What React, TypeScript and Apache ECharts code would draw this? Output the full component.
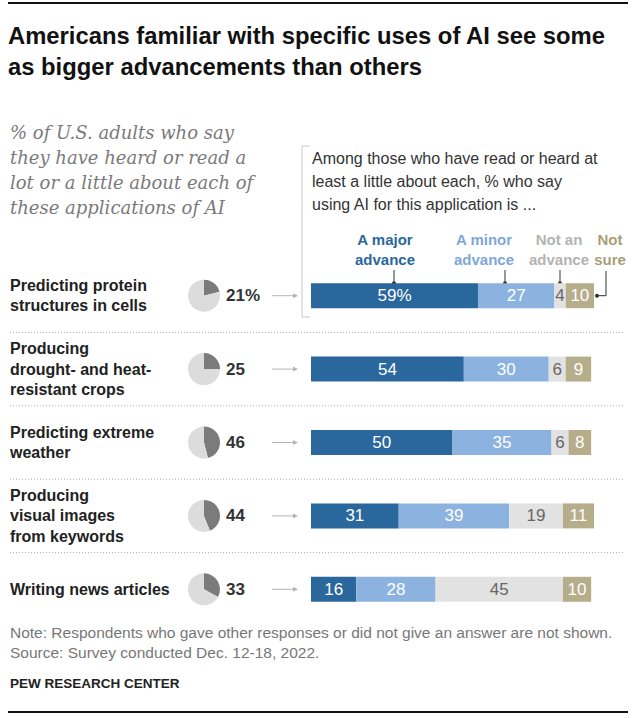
import React, { useEffect, useRef } from "react";
import * as echarts from "echarts";

const categories = [
  "Predicting protein\nstructures in cells",
  "Producing\ndrought- and heat-\nresistant crops",
  "Predicting extreme\nweather",
  "Producing\nvisual images\nfrom keywords",
  "Writing news articles",
];
const familiar = [21, 25, 46, 44, 33];
const major = [59, 54, 50, 31, 16];
const minor = [27, 30, 35, 39, 28];
const notAdvance = [4, 6, 6, 19, 45];
const notSure = [10, 9, 8, 11, 10];
const seriesNames = ["A major\nadvance", "A minor\nadvance", "Not an\nadvance", "Not\nsure"];

const C_MAJOR = "#2a679c";
const C_MINOR = "#8cb3df";
const C_NOT = "#e2e2e2";
const C_SURE = "#b6ad8b";

const GRID_TOP = 259;
const GRID_H = 367;
const GRID_L = 311;
const GRID_W = 283;
const band = GRID_H / categories.length;
const rowY = (i: number) => GRID_TOP + band * (i + 0.5);

const SANS = "'Liberation Sans', Arial, sans-serif";
const NARROW = "'Liberation Sans Narrow', 'Liberation Sans', sans-serif";

export default function App() {
  const ref = useRef<HTMLDivElement>(null);
  useEffect(() => {
    document.body.style.margin = "0";
    const chart = echarts.init(ref.current!, null, { renderer: "svg" });

    const pies = familiar.map((v, i) => ({
      type: "pie",
      silent: true,
      center: [204, rowY(i)],
      radius: 16,
      startAngle: 90,
      clockwise: true,
      label: { show: false },
      labelLine: { show: false },
      data: [
        { value: v, itemStyle: { color: "#7b7b7b" } },
        { value: 100 - v, itemStyle: { color: "#dcdcdc" } },
      ],
    }));

    const barSeries = [
      { name: seriesNames[0], data: major, color: C_MAJOR, lc: "#ffffff" },
      { name: seriesNames[1], data: minor, color: C_MINOR, lc: "#ffffff" },
      { name: seriesNames[2], data: notAdvance, color: C_NOT, lc: "#666666" },
      { name: seriesNames[3], data: notSure, color: C_SURE, lc: "#ffffff" },
    ].map((s, si) => ({
      type: "bar",
      name: s.name,
      stack: "all",
      barWidth: 25,
      data: s.data,
      itemStyle: { color: s.color },
      silent: true,
      label: {
        show: true,
        position: "inside",
        color: s.lc,
        fontFamily: SANS,
        fontSize: 17,
        formatter: (p: any) => (si === 0 && p.dataIndex === 0 ? p.value + "%" : String(p.value)),
      },
    }));

    const graphics: any[] = [];
    const txt = (x: number, y: number, text: string, font: string, fill: string, align = "left", vAlign = "middle", lineHeight?: number) => {
      graphics.push({
        type: "text",
        x,
        y,
        style: {
          text,
          font,
          fill,
          align,
          verticalAlign: vAlign,
          textAlign: align,
          textVerticalAlign: vAlign,
          lineHeight,
        },
      });
    };
    // rules
    graphics.push({ type: "line", shape: { x1: 8, y1: 3, x2: 628, y2: 3 }, style: { stroke: "#111", lineWidth: 2 } });
    graphics.push({ type: "line", shape: { x1: 8, y1: 712, x2: 628, y2: 712 }, style: { stroke: "#111", lineWidth: 2 } });
    // title
    txt(8, 20, "Americans familiar with specific uses of AI see some\nas bigger advancements than others", `bold 23.8px ${SANS}`, "#111", "left", "top", 31);
    // subtitle
    txt(10, 120, "% of U.S. adults who say\nthey have heard or read a\nlot or a little about each of\nthese applications of AI", "italic 18px 'DejaVu Serif', Georgia, serif", "#7a7a7a", "left", "top", 25);
    // annotation
    txt(312, 147, "Among those who have read or heard at\nleast a little about each, % who say\nusing AI for this application is ...", `16px ${SANS}`, "#333", "left", "top", 23);
    graphics.push({ type: "polyline", shape: { points: [[310, 146], [302, 146], [302, 317], [310, 317]] }, style: { stroke: "#c8c8c8", fill: "none", lineWidth: 1 } });
    // legend labels
    const legendFont = `bold 15px ${SANS}`;
    txt(385, 249, seriesNames[0], legendFont, C_MAJOR, "center", "middle", 20);
    txt(484, 249, seriesNames[1], legendFont, "#7ea7d8", "center", "middle", 20);
    txt(559, 249, seriesNames[2], legendFont, "#b3b3b3", "center", "middle", 20);
    txt(610, 249, seriesNames[3], legendFont, "#a89e78", "center", "middle", 20);
    const barTop = rowY(0) - 12.5;
    const leaders = [394, 505, 560];
    leaders.forEach((x) => {
      graphics.push({ type: "line", shape: { x1: x, y1: 270, x2: x, y2: barTop }, style: { stroke: "#333", lineWidth: 1 } });
      graphics.push({ type: "circle", shape: { cx: x, cy: barTop, r: 2 }, style: { fill: "#333" } });
    });
    graphics.push({ type: "polyline", shape: { points: [[597, rowY(0)], [606, rowY(0)], [606, 271]] }, style: { stroke: "#333", fill: "none", lineWidth: 1 } });
    graphics.push({ type: "circle", shape: { cx: 597, cy: rowY(0), r: 2 }, style: { fill: "#333" } });
    // arrows
    categories.forEach((_, i) => {
      const y = rowY(i);
      graphics.push({ type: "line", shape: { x1: 272, y1: y, x2: 294, y2: y }, style: { stroke: "#b5b5b5", lineWidth: 1 } });
      graphics.push({ type: "polygon", shape: { points: [[293, y - 2.5], [298, y], [293, y + 2.5]] }, style: { fill: "#b5b5b5" } });
    });
    // separators
    for (let i = 1; i < categories.length; i++) {
      const y = GRID_TOP + band * i;
      graphics.push({ type: "line", shape: { x1: 10, y1: y, x2: 625, y2: y }, style: { stroke: "#a8a8a8", lineWidth: 1, lineDash: [1, 2] } });
    }
    // notes
    txt(10, 622, "Note: Respondents who gave other responses or did not give an answer are not shown.\nSource: Survey conducted Dec. 12-18, 2022.", `15.5px ${NARROW}`, "#777", "left", "top", 20);
    txt(10, 683, "PEW RESEARCH CENTER", `bold 13.5px ${NARROW}`, "#222", "left", "middle");

    chart.setOption({
      animation: false,
      textStyle: { fontFamily: SANS },
      grid: { left: GRID_L, top: GRID_TOP, width: GRID_W, height: GRID_H, containLabel: false },
      xAxis: { type: "value", min: 0, max: 100, show: false },
      yAxis: [
        {
          type: "category",
          data: categories,
          inverse: true,
          position: "left",
          axisLine: { show: false },
          axisTick: { show: false },
          splitLine: { show: false },
          axisLabel: { align: "left", margin: 301, fontFamily: SANS, fontWeight: "bold", fontSize: 16, lineHeight: 20.5, color: "#222" },
        },
        {
          type: "category",
          data: familiar.map((v, i) => (i === 0 ? v + "%" : String(v))),
          inverse: true,
          position: "left",
          axisLine: { show: false },
          axisTick: { show: false },
          splitLine: { show: false },
          axisLabel: { align: "left", margin: 85, fontFamily: SANS, fontWeight: "bold", fontSize: 17, color: "#333" },
        },
      ],
      series: [...barSeries, ...pies],
      graphic: graphics,
    });
    return () => chart.dispose();
  }, []);
  return <div ref={ref} style={{ width: 635, height: 718 }} />;
}
